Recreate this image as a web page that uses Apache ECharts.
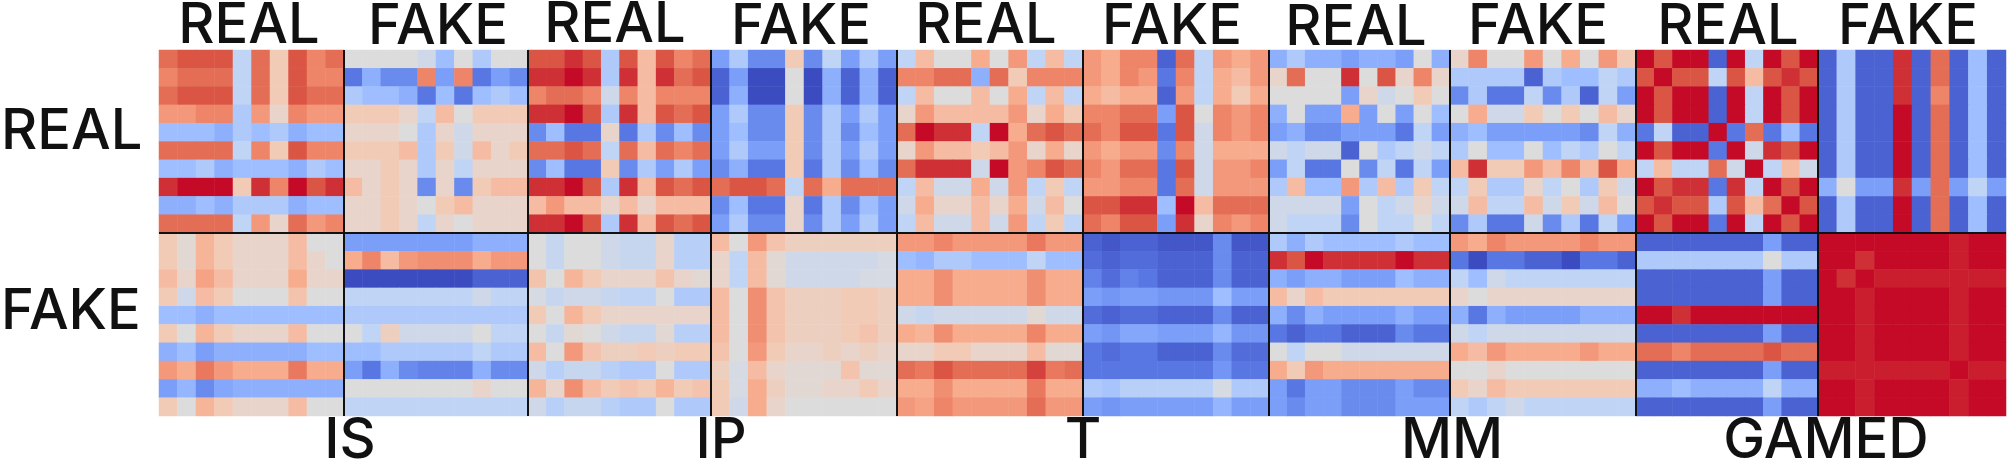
<!DOCTYPE html>
<html>
<head>
<meta charset="utf-8">
<title>Heatmap grid</title>
<script src="https://cdn.jsdelivr.net/npm/echarts@6/dist/echarts.min.js"></script>
<style>
  html, body { margin: 0; padding: 0; background: #fff; }
  #main { width: 2013px; height: 468px; }
</style>
</head>
<body>
<div id="main"></div>
<script>
// correlation-like values, scale -10 .. 10
const isRealReal = [
  [7,8,8,8,-2,7,2,8,6,7],
  [6,7,7,7,-2,7,2,8,6,6],
  [7,8,8,8,-2,7,2,8,7,7],
  [5,5,6,6,-3,5,1,6,5,5],
  [-4,-4,-4,-5,-3,-4,-3,-5,-4,-4],
  [7,7,7,7,-2,6,2,8,6,6],
  [-4,-4,-3,-5,-4,-4,-4,-5,-3,-4],
  [9,10,10,10,2,9,6,10,8,9],
  [-5,-5,-4,-5,-3,-3,-3,-5,-4,-4],
  [7,7,7,7,-2,5,1,7,5,6],
];
const isRealFake = [
  [0,0,0,0,-1,-4,0,-3,0,0],
  [-8,-5,-7,-7,6,-6,6,-8,-6,-7],
  [-3,-4,-4,-5,-8,-4,-8,-4,-3,-4],
  [2,2,2,1,-2,3,0,2,2,2],
  [1,1,1,0,-3,1,-1,1,1,1],
  [2,2,2,3,-3,2,-1,3,1,2],
  [1,1,2,1,-3,1,-2,1,1,1],
  [3,1,2,1,-7,1,-7,2,3,3],
  [1,1,2,1,0,2,3,1,1,1],
  [1,1,2,1,-2,1,0,1,1,1],
];
const isFakeReal = [
  [2,0.5,3.5,2,1,1,1,3,0,0],
  [2,0.5,3.5,2,1,1,1,3,1,0],
  [3,1,4.5,3,1,1,1,4,1,1],
  [2,-1,3,2,0,0,0,2.5,0,0],
  [-4,-4,-5,-4,-4,-4,-4,-4,-4,-4],
  [2,0,3.5,2,1,1,1,3,0,0],
  [-5,-4,-6,-5,-5,-5,-5,-5,-4,-4],
  [5,4,6.5,5,4,4,4,6.5,4,4],
  [-6,-4.5,-7,-5.5,-5,-5,-5,-5,-5,-5],
  [2,0,3.5,2,1,1,1,3,0,0],
];
const isFakeFake = [
  [-6,-6,-6,-6,-6,-6,-6,-5,-5,-5],
  [4,6,3,5,5.5,5.5,5.5,4,5,5],
  [-10,-10,-10,-10,-10,-10,-10,-9,-9,-9],
  [-2,-2,-2,-2,-2,-2,-2,-1,-2,-2],
  [-3,-3,-3,-3,-3,-3,-3,-3,-3,-3],
  [0,-2,1.5,-1,-1,-1,-1,0,-2,-2],
  [-4,-4,-3,-3,-3,-3,-3,-2,-3,-3],
  [-6,-8,-5,-7,-7.5,-7.5,-7.5,-5,-7,-7],
  [0,0,0,0,0,0,0,1,0,0],
  [-2,-2,-2,-2,-2,-2,-2,-2,-2,-2],
];
const ipRealReal = [
  [8,8,9,8,-3,8,3,8,6,7],
  [9,9,10,9,-3,9,3,9,7,8],
  [6,7,7,6,-1,6,3,6,6,6],
  [9,9,10,8,-3,9,3,8,7,8],
  [-7,-4,-8,-8,1,-8,-3,-7,-4,-7],
  [7,7,8,7,-2,7,3,7,6,7],
  [-7,-4,-8,-8,2,-7,-3,-6,-3,-6],
  [9,9,10,8,-3,9,3,8,7,8],
  [3,5,3,3,1,3,1,3,3,3],
  [9,9,10,8,-3,9,3,8,7,8],
];
const ipRealFake = [
  [-6,-3,-7,-7,2,-7,-2,-6,-3,-6],
  [-9,-6,-10,-10,0,-10,-5,-9,-5,-9],
  [-9,-5,-10,-10,0,-10,-5,-9,-5,-9],
  [-6,-3,-7,-7,2,-7,-3,-6,-3,-6],
  [-6,-4,-7,-7,2,-7,-3,-7,-4,-6],
  [-6,-3,-6,-6,2,-7,-3,-6,-3,-6],
  [-7,-5,-8,-8,2,-8,-3,-7,-4,-7],
  [7,8,8,7,-2,7,4,7,7,7],
  [-7,-4,-8,-8,1,-8,-3,-7,-4,-6],
  [-6,-3,-7,-7,1,-7,-3,-6,-3,-6],
];
const ipFakeReal = [
  [0,-1.5,0,0,-1,-1.5,-1.5,1,-2.5,-2.5],
  [0,-1.5,0,0,-1,-1.5,-1.5,1,-2.5,-2.5],
  [2.5,0,3.5,2,1,1,1,2.5,1,0.5],
  [-0.5,-1.5,-1,-1,-1.5,-2,-2,0,-3,-3],
  [2,0,3.5,2,1,1,1,1,1,1],
  [0,-1.5,0.5,0,-1,-1.5,-1.5,0.5,-2.5,-2.5],
  [3,0,5,2.5,1.5,1.5,2,1.5,2,2],
  [-1,-2.5,-1.5,-1.5,-2.5,-3,-3,0,-3,-3],
  [3.5,1,5.5,3,2,2.5,2,3.5,2,2.5],
  [-1,-2.5,-1.5,-1.5,-2.5,-3,-3,0,-3,-3],
];
const ipFakeFake = [
  [3,0,5,2.5,1.5,1.5,1.5,1.5,1.5,1.5],
  [1,-2,3,0.5,-1,-1,-1,-1,-1,-0.5],
  [1,-2,3,0.5,-1,-1,-1,-1,-0.5,-0.5],
  [3,0,5.5,2.5,1.5,1.5,1.5,2,2,1.5],
  [3,0,5.5,2.5,1.5,1.5,1.5,2,2,1.5],
  [3,0,5.5,2.5,1.5,1.5,1.5,2,2.5,1.5],
  [2.5,0,5,2,1,1,1.5,1,1.5,1],
  [1.5,-0.5,3,1,0.5,0.5,0.5,2.5,0.5,0.5],
  [2,-0.5,4,1.5,0.5,0.5,1,1,2,1],
  [2,-1,4,1,0,0,0,0,0,0],
];
const tRealReal = [
  [-2,3,0,0,4,0,5,-2,3,-2],
  [6,6,7,7,-5,7,2,6,6,6],
  [-2,3,0,0,3,0,4,-2,3,-2],
  [1,5,3,3,3,3,5,1,4,2],
  [7,10,9,9,-2,10,4,7,8,7],
  [1,5,3,3,2,3,5,1,4,1],
  [7,9,9,9,-1,10,5,6,8,7],
  [-2,3,-1,-1,4,-1,5,-2,2,-2],
  [-1,4,1,1,3,1,4,-1,3,0],
  [-2,3,-1,-1,3,-1,5,-2,2,-2],
];
const tRealFake = [
  [5,4,6,6,-9,7,-2,5,4,5],
  [5,4,6,5,-8,6,-2,4,3,5],
  [4,3,4,4,-9,5,-2,4,2,4],
  [6,6,7,7,-6,8,0,6,5,6],
  [7,6,8,8,-8,8,-1,6,5,6],
  [5,4,5,5,-7,6,-1,4,4,4],
  [6,5,7,7,-8,8,-1,5,5,6],
  [5,5,6,6,-8,7,-1,5,5,5],
  [8,8,9,9,-4,10,3,7,7,7],
  [7,6,8,8,-6,9,1,6,5,6],
];
const tFakeReal = [
  [5,5,6,5,5,5,5,6.5,5,5],
  [-4,-4.5,-3,-3,-4,-4,-4,-2,-4,-4],
  [4,4,5.5,4,4,4,4,5.5,4,4],
  [4,4,5.5,4,4,4,4,5.5,4,4],
  [-1,-1.5,-1,-1,-1,-1,-1,0.5,-1,-1],
  [4,3.5,5.5,4,4,4,4,6,4,4],
  [1,1,2,2,1,1,1,3,0.5,0.5],
  [7,6.5,8,7,7,7,7,8.5,6.5,7],
  [4,4,5.5,4,4,4,4,6.5,4,4],
  [5,4.5,6,5,5,5,5,7,5,5],
];
const tFakeFake = [
  [-9,-9.5,-9,-9,-9.5,-9.5,-9.5,-7,-9.5,-9.5],
  [-8.5,-9,-8.5,-8.5,-9,-9,-9,-7,-9,-9],
  [-7.5,-8.5,-7.5,-8,-9,-9,-9,-7,-9,-9],
  [-6,-6.5,-6,-6,-6.5,-6.5,-6.5,-4,-6,-6],
  [-8.5,-9,-8.5,-8.5,-9,-9,-9,-7,-9,-9],
  [-6,-6.5,-5.5,-5.5,-6,-6,-6,-4.5,-6.5,-6.5],
  [-8,-8.5,-8,-8,-9,-9,-9,-7,-8.5,-8.5],
  [-8,-8,-8,-8,-8,-8,-8,-6.5,-8,-8],
  [-3,-3.5,-2.5,-2.5,-2.5,-2.5,-2.5,-0.5,-3,-3],
  [-6,-6.5,-6,-6,-6,-6,-6,-4.5,-6,-6],
];
const mmRealReal = [
  [-5,-3,-5,-5,-6,-5,-5,-6,0,-5],
  [1,7,0,0,9,0,8,1,6,1],
  [0,0,0,0,-6,1,-1,0,2,0],
  [-5,0,-6,-6,4,-6,0,-6,0,-4],
  [-6,-5,-7,-7,-6,-6,-6,-8,-2,-6],
  [-1,-2,-1,-1,-9,0,-3,-2,-1,-2],
  [-6,-2,-8,-8,0,-7,-2,-8,-2,-6],
  [-3,3,-4,-4,5,-3,3,-3,2,-2],
  [-1,-1,-1,-1,-6,0,-2,-1,1,-1],
  [-1,-2,-2,-2,-7,0,-2,-2,0,-2],
];
const mmRealFake = [
  [1,6,0,0,5,0,4,0,5,2],
  [-3,-3,-3,-3,-9,-3,-4,-4,-2,-3],
  [-7,-3,-8,-8,-2,-7,-3,-9,-2,-6],
  [0,4,-1,-1,2,0,2,0,3,1],
  [-5,-4,-6,-6,-6,-6,-6,-7,-2,-5],
  [-3,0,-4,-4,0,-4,-2,-3,0,-2],
  [3,9,2,2,5,3,6,3,8,4],
  [-2,2,-3,-3,1,-2,0,-3,2,-1],
  [-1,3,-2,-2,3,-1,2,-1,3,0],
  [-7,-3,-8,-8,-1,-7,-3,-8,-2,-6],
];
const mmFakeReal = [
  [-3,-5,-3,-4,-4,-4,-4,-3,-4,-4],
  [9,8,10,9,9,9,9,10,9,9],
  [-5,-6,-5,-5,-6,-6,-6,-4,-5,-5],
  [3,1,3,2,2,2,2,2,2,2],
  [-5,-7,-5,-6,-6,-6,-6,-5,-6,-6],
  [-8,-9,-8,-8,-9,-9,-9,-7,-8,-8],
  [0,-2,0,0,-1,-1,-1,-1,-1,-1],
  [4,2,5,4,4,4,4,4,4,4],
  [-6,-8,-6,-6,-7,-7,-7,-6,-7,-7],
  [-6,-7,-6,-6,-7,-7,-7,-6,-6,-6],
];
const mmFakeFake = [
  [5,4,6,5,5,5,5,6,5,5],
  [-8,-10,-8,-8,-9,-9,-10,-8,-8,-9],
  [-2,-4,-1,-2,-2,-2,-2,-2,-2,-2],
  [1,0,1,1,1,1,1,1,1,1],
  [-5,-8,-5,-6,-6,-6,-6,-5,-5,-5],
  [-1,-2,-1,-1,-1,-1,-1,-1,-1,-1],
  [4,3,5,4,4,4,4,5,4,4],
  [0,0,1,0,0,0,0,0,0,0],
  [2,1,3,2,2,2,2,2,2,2],
  [-2,-3,-2,-1,-2,-2,-2,-2,-2,-2],
];
const gamedRealReal = [
  [10,8,10,10,-9,10,-2,10,8,10],
  [8,10,8,8,-2,8,3,8,9,8],
  [10,8,10,10,-9,10,-2,10,8,10],
  [10,8,10,10,-9,10,-2,10,8,10],
  [-8,-2,-9,-9,10,-8,7,-8,-4,-8],
  [10,8,10,10,-8,10,-1,9,8,10],
  [-2,3,-2,-2,7,-1,10,-2,3,-1],
  [10,8,9,9,-8,9,-2,10,8,10],
  [8,9,8,8,-3,8,3,7,10,8],
  [10,8,10,10,-8,10,-2,10,8,10],
];
const gamedRealFake = [
  [-9,-3,-9,-9,9,-9,7,-9,-4,-9],
  [-9,-3,-9,-9,9,-9,7,-9,-4,-9],
  [-9,-3,-9,-9,9,-9,6,-9,-4,-9],
  [-9,-3,-9,-9,10,-9,7,-9,-4,-9],
  [-9,-3,-9,-9,10,-9,7,-9,-4,-9],
  [-9,-3,-9,-9,10,-9,7,-9,-4,-9],
  [-9,-3,-9,-9,10,-9,7,-9,-4,-9],
  [-5,0,-6,-6,9,-6,7,-6,-2,-6],
  [-9,-3,-9,-9,10,-9,7,-9,-4,-9],
  [-9,-3,-9,-9,10,-9,7,-9,-4,-9],
];
const gamedFakeReal = [
  [-9,-9,-9,-9,-9,-9,-9,-6,-9,-9],
  [-3,-3,-3,-3,-3,-3,-3,0,-3,-3],
  [-9,-9,-9,-9,-9,-9,-9,-6,-9,-9],
  [-9,-9,-9,-9,-9,-9,-9,-6,-9,-9],
  [10,10,9,10,10,10,10,10,10,10],
  [-9,-9,-9,-9,-9,-9,-9,-6,-9,-9],
  [7,7,6,7,7,7,7,8,7,7],
  [-9,-9,-9,-9,-9,-9,-9,-6,-9,-9],
  [-5,-5,-4,-5,-5,-5,-5,-2,-5,-5],
  [-9,-9,-9,-9,-9,-9,-9,-6,-9,-9],
];
const gamedFakeFake = [
  [10,10,10,10,10,10,10,9.5,10,10],
  [10,10,9,10,10,10,10,9.5,10,10],
  [10,9,10,9.5,9.5,9.5,9.5,9.5,9.5,9.5],
  [10,10,9.5,10,10,10,10,9.5,10,10],
  [10,10,9.5,10,10,10,10,9.5,10,10],
  [10,10,9.5,10,10,10,10,9.5,10,10],
  [10,10,9.5,10,10,10,10,9.5,10,10],
  [9.5,9.5,9.5,9.5,9.5,9.5,9.5,10,9.5,9.5],
  [10,10,9.5,10,10,10,10,9.5,10,10],
  [10,10,9.5,10,10,10,10,9.5,10,10],
];

const cells = ["0", "1", "2", "3", "4", "5", "6", "7", "8", "9"];
const topLabels = ["REAL", "FAKE", "REAL", "FAKE", "REAL", "FAKE", "REAL", "FAKE", "REAL", "FAKE"];
const rowLabels = ["REAL", "FAKE"];
const bottomLabels = ["IS", "IP", "T", "MM", "GAMED"];
const panels = [
  [isRealReal, isRealFake, ipRealReal, ipRealFake, tRealReal, tRealFake, mmRealReal, mmRealFake, gamedRealReal, gamedRealFake],
  [isFakeReal, isFakeFake, ipFakeReal, ipFakeFake, tFakeReal, tFakeFake, mmFakeReal, mmFakeFake, gamedFakeReal, gamedFakeFake],
];

// layout, the panels are not evenly wide in the picture
const colEdges = [159, 344, 528, 711, 897, 1083, 1269, 1450, 1636, 1818, 2006];
const rowEdges = [50, 233, 416];
const topLabelX = [249, 438, 615, 801, 986, 1172, 1356, 1538, 1728, 1908];
const topLabelY = [26, 27, 25, 27, 26, 27, 28, 27, 27, 27];
const rowLabelY = [132, 312];
const bottomLabelX = [350, 721, 1083, 1452, 1826];
const bottomLabelY = 441;
const labelFont = '500 56px Inter';
const ink = "#111";

var grids = [], xAxes = [], yAxes = [], series = [], graphics = [];

panels.forEach(function (rowPanels, r) {
  rowPanels.forEach(function (matrix, c) {
    var idx = grids.length;
    grids.push({
      left: colEdges[c],
      top: rowEdges[r],
      width: colEdges[c + 1] - colEdges[c],
      height: rowEdges[r + 1] - rowEdges[r],
    });
    xAxes.push({ type: "category", gridIndex: idx, data: cells, show: false });
    yAxes.push({ type: "category", gridIndex: idx, data: cells, show: false, inverse: true });
    var data = [];
    matrix.forEach(function (row, y) {
      row.forEach(function (v, x) {
        data.push([x, y, v]);
      });
    });
    series.push({
      type: "heatmap",
      xAxisIndex: idx,
      yAxisIndex: idx,
      data: data,
      silent: true,
      progressive: 0,
      animation: false,
    });
  });
});

// black separators between the panels
colEdges.slice(1, -1).forEach(function (x) {
  graphics.push({
    type: "line", z: 10, silent: true,
    shape: { x1: x, y1: rowEdges[0], x2: x, y2: rowEdges[2] },
    style: { stroke: ink, lineWidth: 2 },
  });
});
graphics.push({
  type: "line", z: 10, silent: true,
  shape: { x1: colEdges[0], y1: rowEdges[1], x2: colEdges[10], y2: rowEdges[1] },
  style: { stroke: ink, lineWidth: 2 },
});

function addLabel(text, x, y, align) {
  graphics.push({
    type: "text", z: 10, silent: true, x: x, y: y,
    style: { text: text, font: labelFont, fill: ink, align: align, verticalAlign: "middle" },
  });
}
topLabels.forEach(function (t, i) { addLabel(t, topLabelX[i], topLabelY[i], "center"); });
rowLabels.forEach(function (t, i) { addLabel(t, 1, rowLabelY[i], "left"); });
bottomLabels.forEach(function (t, i) { addLabel(t, bottomLabelX[i], bottomLabelY, "center"); });

var chart = echarts.init(document.getElementById("main"));
chart.setOption({
  backgroundColor: "#fff",
  animation: false,
  grid: grids,
  xAxis: xAxes,
  yAxis: yAxes,
  visualMap: {
    show: false,
    min: -10,
    max: 10,
    seriesIndex: series.map(function (s, i) { return i; }),
    inRange: {
      // coolwarm, the top end a little brighter as in the picture
      color: ["#3b4cc0", "#5977e3", "#7b9ff9", "#9ebeff", "#c0d4f5", "#dddcdc", "#f2cbb7", "#f7ac8e", "#ee8468", "#da5544", "#c40a26"],
    },
  },
  series: series,
  graphic: graphics,
});
</script>
</body>
</html>
